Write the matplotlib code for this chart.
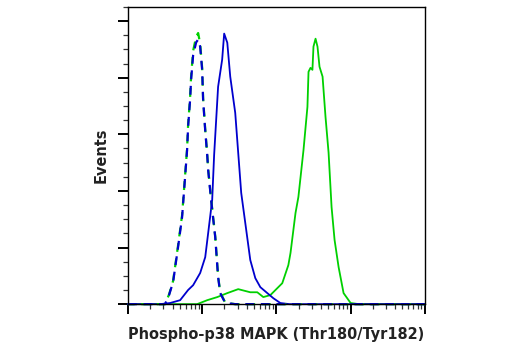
import numpy as np
import matplotlib
matplotlib.use('Agg')
import matplotlib.pyplot as plt
from matplotlib.ticker import LogLocator, MultipleLocator, NullFormatter

# isotype controls (dashed)
ctrl_x = [1, 1.98, 3.16, 3.58, 4.06, 4.74, 5.37, 6.27, 6.47, 6.88, 7.10, 7.56, 8.30, 8.83,
          9.40, 10.0, 10.3, 10.98, 11.7, 12.05, 13.2, 15.0, 16.4, 17.5, 20.5, 27.9, 10000]
ctrl_blue_y = [0, 0, 0, 3.2, 7.8, 20.2, 30.8, 54.5, 62.7, 72.2, 79.3, 88.0, 92.5, 93.5,
               91.0, 82.8, 72.2, 61.6, 52.7, 47.4, 36.8, 23.7, 9.6, 3.9, 0.4, 0, 0]
ctrl_green_y = [0, 0, 0, 3.4, 8.2, 20.8, 31.5, 55.0, 63.5, 73.0, 80.5, 89.5, 94.5, 95.8,
                92.0, 83.5, 72.8, 62.0, 53.0, 47.8, 37.2, 24.0, 10.0, 4.2, 0.5, 0, 0]

# untreated (blue solid)
blue_x = [1, 2.7, 3.7, 5.05, 6.47, 7.56, 9.4, 11.0, 12.05, 13.65, 14.5, 16.4, 18.6, 19.8,
          21.8, 23.9, 27.9, 30.6, 33.6, 38.1, 44.5, 52.0, 60.8, 75.5, 91.0, 113, 150, 10000]
blue_y = [0, 0, 0.4, 1.4, 5.0, 6.7, 11.0, 16.6, 25.1, 36.8, 52.7, 76.8, 86.4, 95.6,
          92.4, 80.4, 67.6, 53.5, 39.3, 28.7, 15.6, 9.2, 6.0, 3.9, 2.1, 0.4, 0, 0]

# treated (green solid)
green_x = [1, 8.56, 11.7, 16.0, 21.8, 30.6, 44.5, 55.3, 66.7, 83.0, 120, 145, 155, 181, 198,
           232, 262, 271, 288, 306, 316, 337, 358, 381, 419, 459, 505, 554, 608, 689, 804,
           1000, 1300, 10000]
green_y = [0, 0, 1.4, 2.5, 3.9, 5.3, 4.2, 4.2, 2.5, 3.2, 7.4, 13.8, 18.1, 32.2, 37.9,
           54.5, 69.7, 82.1, 83.5, 82.8, 91.0, 93.8, 91.0, 83.9, 80.4, 66.2, 53.5, 34.3, 22.7,
           13.1, 3.9, 0.4, 0, 0]

blue = '#0000CD'
green = '#00D000'

fig = plt.figure(figsize=(5.2, 3.5), dpi=100)
ax = fig.add_axes([0.246, 0.131, 0.571, 0.849])

ax.plot(green_x, green_y, color=green, lw=1.3, clip_on=False)
ax.plot(blue_x, blue_y, color=blue, lw=1.3, clip_on=False)
ax.plot(ctrl_x, ctrl_green_y, color=green, lw=1.6, linestyle=(1, (4, 3)), clip_on=False)
ax.plot(ctrl_x, ctrl_blue_y, color=blue, lw=1.6, linestyle=(0, (4, 3)), clip_on=False)

ax.set_xscale('log')
ax.set_xlim(1, 10000)
ax.set_ylim(0, 105)
ax.xaxis.set_major_locator(LogLocator(base=10, numticks=10))
ax.xaxis.set_minor_locator(LogLocator(base=10, subs=np.arange(2, 10), numticks=10))
ax.xaxis.set_major_formatter(NullFormatter())
ax.xaxis.set_minor_formatter(NullFormatter())
ax.yaxis.set_major_locator(MultipleLocator(20))
ax.yaxis.set_minor_locator(MultipleLocator(5))
ax.yaxis.set_major_formatter(NullFormatter())
ax.tick_params(which='major', direction='out', length=7, width=1.4, color='black')
ax.tick_params(which='minor', direction='out', length=3.5, width=0.9, color='#333333')
ax.tick_params(top=False, right=False, which='both')
for s in ax.spines.values():
    s.set_linewidth(1.0)

ax.set_xlabel('Phospho-p38 MAPK (Thr180/Tyr182)', fontsize=11.6, fontweight='bold',
              family='DejaVu Sans', fontstretch='condensed', color='#222222', labelpad=6)
ax.set_ylabel('Events', fontsize=11.6, fontweight='bold', family='DejaVu Sans',
              fontstretch='condensed', color='#222222', labelpad=3.5)

fig.savefig('out.png', dpi=100)
